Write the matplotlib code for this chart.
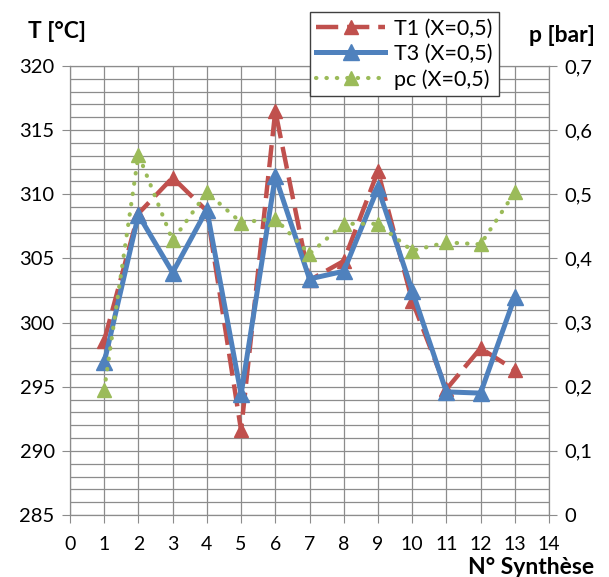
import matplotlib
matplotlib.use("Agg")
import matplotlib.pyplot as plt
from matplotlib.ticker import FixedLocator, MultipleLocator

# Data
synthese = [1, 2, 3, 4, 5, 6, 7, 8, 9, 10, 11, 12, 13]
t1 = [298.6, 308.5, 311.3, 308.7, 291.6, 316.5, 303.3, 304.8, 311.8, 301.7, 294.8, 298.0, 296.3]
t3 = [296.9, 308.4, 303.9, 308.8, 294.4, 311.4, 303.4, 304.0, 310.5, 302.5, 294.6, 294.5, 302.0]
pc = [0.195, 0.562, 0.428, 0.503, 0.456, 0.462, 0.407, 0.454, 0.454, 0.412, 0.425, 0.422, 0.503]
labels = ["T1 (X=0,5)", "T3 (X=0,5)", "pc (X=0,5)"]
right_ticks = [0, 0.1, 0.2, 0.3, 0.4, 0.5, 0.6, 0.7]
right_labels = ["0", "0,1", "0,2", "0,3", "0,4", "0,5", "0,6", "0,7"]

RED = "#C0504D"
BLUE = "#4F81BD"
GREEN = "#9BBB59"
GRID = "#8C8C8C"
FONT = "Lato"

fig = plt.figure(figsize=(6.09, 5.77), dpi=100)
ax = fig.add_axes([70/609, 1-515/577, 479/609, 449/577])
ax.set_xlim(0, 14)
ax.set_ylim(285, 320)
ax.xaxis.set_major_locator(MultipleLocator(1))
ax.yaxis.set_major_locator(MultipleLocator(5))
ax.yaxis.set_minor_locator(MultipleLocator(1))
ax.grid(True, which="both", axis="y", color=GRID, lw=0.9)
ax.grid(True, which="major", axis="x", color=GRID, lw=0.9)
ax.set_axisbelow(True)
for s in ["left", "right", "bottom", "top"]:
    ax.spines[s].set_color(GRID)
    ax.spines[s].set_linewidth(0.9)
ax.tick_params(axis="y", which="major", length=6, color=GRID, labelsize=14.5, pad=5)
ax.tick_params(axis="y", which="minor", length=0)
ax.tick_params(axis="x", length=6, color=GRID, labelsize=14, pad=9)
for lab in ax.get_yticklabels() + ax.get_xticklabels():
    lab.set_fontfamily(FONT)

l1, = ax.plot(synthese, t1, color=RED, lw=3.2, dashes=(5, 2), marker="^",
              markersize=10, markeredgecolor=RED, label=labels[0], zorder=3)
l2, = ax.plot(synthese, t3, color=BLUE, lw=3.6, marker="^", markersize=11.5,
              markeredgecolor=BLUE, label=labels[1], zorder=4)

ax2 = ax.twinx()
ax2.set_ylim(0, 0.7)
ax2.yaxis.set_major_locator(FixedLocator(right_ticks))
ax2.set_yticklabels(right_labels, fontfamily=FONT)
ax2.tick_params(axis="y", length=6, color=GRID, labelsize=14.5, pad=5)
for s in ["left", "right", "bottom", "top"]:
    ax2.spines[s].set_visible(False)
l3, = ax2.plot(synthese, pc, color=GREEN, lw=3.0, dashes=(0.1, 2.4),
               dash_capstyle="round", marker="^", markersize=9.5,
               markeredgecolor=GREEN, label=labels[2], zorder=5)

leg = fig.legend([l1, l2, l3], labels, loc="upper left",
                 bbox_to_anchor=(310/609, 1-12/577), frameon=True,
                 fancybox=False, edgecolor="#404040", framealpha=1,
                 prop={"family": FONT, "size": 15.5}, handlelength=3.2,
                 borderpad=0.3, labelspacing=0.25, handletextpad=0.4,
                 borderaxespad=0)
leg.get_frame().set_linewidth(1.0)

fig.text(57/609, 1-32/577, "T [°C]", ha="center", va="center",
         fontsize=16.5, fontweight="bold", family=FONT)
fig.text(562/609, 1-36/577, "p [bar]", ha="center", va="center",
         fontsize=16.5, fontweight="bold", family=FONT)
fig.text(531/609, 1-567/577, "N° Synthèse", ha="center", va="center",
         fontsize=16.5, fontweight="bold", family=FONT)

fig.savefig("out.png", dpi=100)
